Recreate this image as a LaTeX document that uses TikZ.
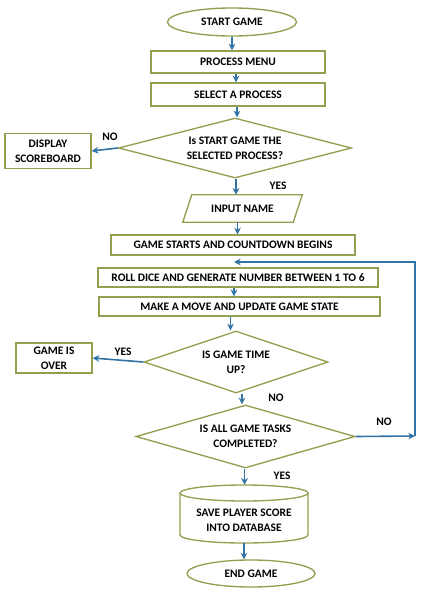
\documentclass[tikz,border=0pt]{standalone}
\usepackage{fontspec}
\setmainfont{Carlito}
\usetikzlibrary{shapes.geometric,arrows.meta,calc}
\definecolor{bord}{RGB}{150,158,80}
\definecolor{arrc}{RGB}{50,115,165}
\newlength{\px}\setlength{\px}{0.75pt}
\begin{document}
\begin{tikzpicture}[x=0.75pt,y=-0.75pt,
  every node/.style={font=\fontsize{8.6}{11}\selectfont\bfseries, align=center, inner sep=0pt},
  procbox/.style={draw=bord, line width=1pt, rectangle},
  termin/.style={draw=bord, line width=1pt, ellipse},
  decis/.style={draw=bord, line width=1pt, diamond, shape aspect=3.5},
  arr/.style={draw=arrc, line width=1.2pt, -{Stealth[length=5pt,width=5pt]}},
  lbl/.style={font=\fontsize{8.6}{11}\selectfont\bfseries}]
\useasboundingbox (0,0) rectangle (421,591);
\fill[white] (0,0) rectangle (421,591);

\node[termin, minimum width=129\px, minimum height=28\px] (start) at (232,22) {START GAME};
\node[procbox, minimum width=174\px, minimum height=22\px] (menu) at (238,62) {PROCESS MENU};
\node[procbox, minimum width=174\px, minimum height=23\px] (select) at (238,94.5) {SELECT A PROCESS};
\node[decis, minimum width=233\px, minimum height=60\px] (d1) at (235,148) {Is START GAME THE\\SELECTED PROCESS?};
\node[procbox, minimum width=86\px, minimum height=35\px] (disp) at (48,151) {DISPLAY\\SCOREBOARD};
\node[minimum width=110\px, minimum height=27\px] (input) at (242.5,208.5) {INPUT NAME};
\draw[bord, line width=1pt] ($(input.north west)+(4.5,0)$) -- ($(input.north east)+(4.5,0)$) -- ($(input.south east)+(-4.5,0)$) -- ($(input.south west)+(-4.5,0)$) -- cycle;
\node[procbox, minimum width=244\px, minimum height=20\px] (gsc) at (233,245) {GAME STARTS AND COUNTDOWN BEGINS};
\node[procbox, minimum width=280\px, minimum height=19\px] (roll) at (238,277.5) {ROLL DICE AND GENERATE NUMBER BETWEEN 1 TO 6};
\node[procbox, minimum width=281\px, minimum height=19\px] (move) at (239.5,306.5) {MAKE A MOVE AND UPDATE GAME STATE};
\node[decis, minimum width=184\px, minimum height=62\px] (d2) at (236,362) {IS GAME TIME\\UP?};
\node[procbox, minimum width=76\px, minimum height=30\px] (over) at (54,358) {GAME IS\\OVER};
\node[decis, minimum width=219\px, minimum height=63\px] (d3) at (245.5,436.5) {IS ALL GAME TASKS\\COMPLETED?};
\node[minimum width=128\px, minimum height=58\px] (db) at (244,514) {};
\draw[bord, line width=1pt] (180,493) -- (180,535) arc[start angle=180, end angle=360, x radius=64, y radius=-8] -- (308,493);
\draw[bord, line width=1pt] (244,493) ellipse[x radius=64, y radius=8];
\node (dbtext) at (244,520.5) {SAVE PLAYER SCORE\\INTO DATABASE};
\node[termin, minimum width=128\px, minimum height=27\px] (end) at (251,573.5) {END GAME};

\coordinate (loopc) at (415,436);
\coordinate (loopend) at (234,262);

\draw[arr] (start.south) -- (start.south |- menu.north);
\draw[arr] ([xshift=-2\px]select.north |- menu.south) -- ([xshift=-2\px]select.north);
\draw[arr] ([xshift=-1\px]select.south) -- ([xshift=-1\px]select.south |- d1.north);
\draw[arr] (d1.west) -- (disp.east);
\draw[arr] ([xshift=1\px]d1.south) -- ([xshift=1\px]d1.south |- input.north);
\draw[arr] ([xshift=-5\px]input.south) -- ([xshift=-5\px]input.south |- gsc.north);
\draw[arr] ([xshift=-4\px]roll.south) -- ([xshift=-4\px]roll.south |- move.north);
\draw[arr] ([xshift=-9\px]move.south) -- ([xshift=-9\px]move.south |- d2.north);
\draw[arr] (d2.west) -- (over.east);
\draw[arr] ([xshift=6\px]d2.south) -- ([xshift=6\px]d2.south |- d3.north);
\draw[arr] (d3.east) -- (loopc);
\draw[arr] (loopc) |- (loopend);
\draw[arr] ([xshift=-1\px]d3.south) -- ([xshift=-1\px]d3.south |- db.north);
\draw[arr] (db.south) -- (db.south |- end.north);

\node[lbl] (l1) at (110,137) {NO};
\node[lbl] (l2) at (278,186) {YES};
\node[lbl] (l3) at (123,352) {YES};
\node[lbl] (l4) at (276,398) {NO};
\node[lbl] (l5) at (384,422) {NO};
\node[lbl] (l6) at (282,476) {YES};
\end{tikzpicture}
\end{document}
